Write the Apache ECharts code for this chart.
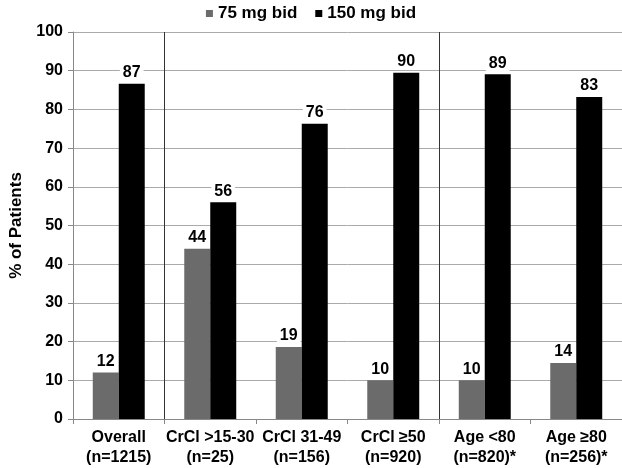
<!DOCTYPE html>
<html>
<head>
<meta charset="utf-8">
<script src="https://cdn.jsdelivr.net/npm/echarts@6/dist/echarts.min.js"></script>
<style>html,body{margin:0;padding:0;background:#fff;}#c{width:622px;height:468px;}</style>
</head>
<body>
<div id="c"></div>
<script>
var categories = ['Overall\n(n=1215)', 'CrCl >15-30\n(n=25)', 'CrCl 31-49\n(n=156)', 'CrCl \u226550\n(n=920)', 'Age <80\n(n=820)*', 'Age \u226580\n(n=256)*'];
var seriesNames = ['75 mg bid', '150 mg bid'];
var dose75 = [12, 44, 18.6, 10, 10, 14.5];
var dose150 = [86.6, 56, 76.3, 89.5, 89.1, 83.2];
var dose75Labels = ['12', '44', '19', '10', '10', '14'];
var dose150Labels = ['87', '56', '76', '90', '89', '83'];
var yTicks = [0, 10, 20, 30, 40, 50, 60, 70, 80, 90, 100];
var groupBoundaries = [1, 4];

var FONT = '"Liberation Sans", Arial, sans-serif';
var chart = echarts.init(document.getElementById('c'), null, {renderer: 'canvas'});

function labelCfg(arr) {
  return {
    show: true, position: 'top', distance: 3,
    formatter: function (p) { return arr[p.dataIndex]; },
    color: '#000', fontFamily: FONT, fontWeight: 'bold', fontSize: 16,
    backgroundColor: '#fff', padding: [0, 3, 0, 3]
  };
}

chart.setOption({
  animation: false,
  backgroundColor: '#fff',
  textStyle: {fontFamily: FONT},
  legend: {
    top: 0, left: 'center',
    icon: 'rect', itemWidth: 7, itemHeight: 7, itemGap: 18,
    textStyle: {fontFamily: FONT, fontWeight: 'bold', fontSize: 17, color: '#000'},
    data: seriesNames
  },
  grid: {left: 58, right: 0, top: 32, bottom: 46.5, containLabel: false},
  xAxis: {
    type: 'category',
    data: categories,
    axisLine: {show: true, lineStyle: {color: '#888', width: 1}},
    axisTick: {show: true, length: 5, lineStyle: {color: '#888'}},
    axisLabel: {color: '#000', fontFamily: FONT, fontWeight: 'bold', fontSize: 16, lineHeight: 20, margin: 9, interval: 0},
    splitLine: {
      show: true,
      interval: function (idx) { return groupBoundaries.indexOf(idx) >= 0; },
      lineStyle: {color: '#333', width: 1}
    }
  },
  yAxis: {
    type: 'value', min: yTicks[0], max: yTicks[yTicks.length - 1], interval: 10,
    name: '% of Patients', nameLocation: 'middle', nameGap: 48,
    nameTextStyle: {color: '#000', fontFamily: FONT, fontWeight: 'bold', fontSize: 17},
    axisLine: {show: true, lineStyle: {color: '#888', width: 1}},
    axisTick: {show: true, length: 5, lineStyle: {color: '#888'}},
    axisLabel: {color: '#000', fontFamily: FONT, fontWeight: 'bold', fontSize: 16, margin: 10},
    splitLine: {show: true, lineStyle: {color: '#aaa', width: 1}}
  },
  series: [
    {name: seriesNames[0], type: 'bar', data: dose75, barWidth: '28.4%', barGap: '0%',
     itemStyle: {color: '#6b6b6b'}, label: labelCfg(dose75Labels)},
    {name: seriesNames[1], type: 'bar', data: dose150, barWidth: '28.4%', barGap: '0%',
     itemStyle: {color: '#000'}, label: labelCfg(dose150Labels)}
  ]
});
</script>
</body>
</html>
